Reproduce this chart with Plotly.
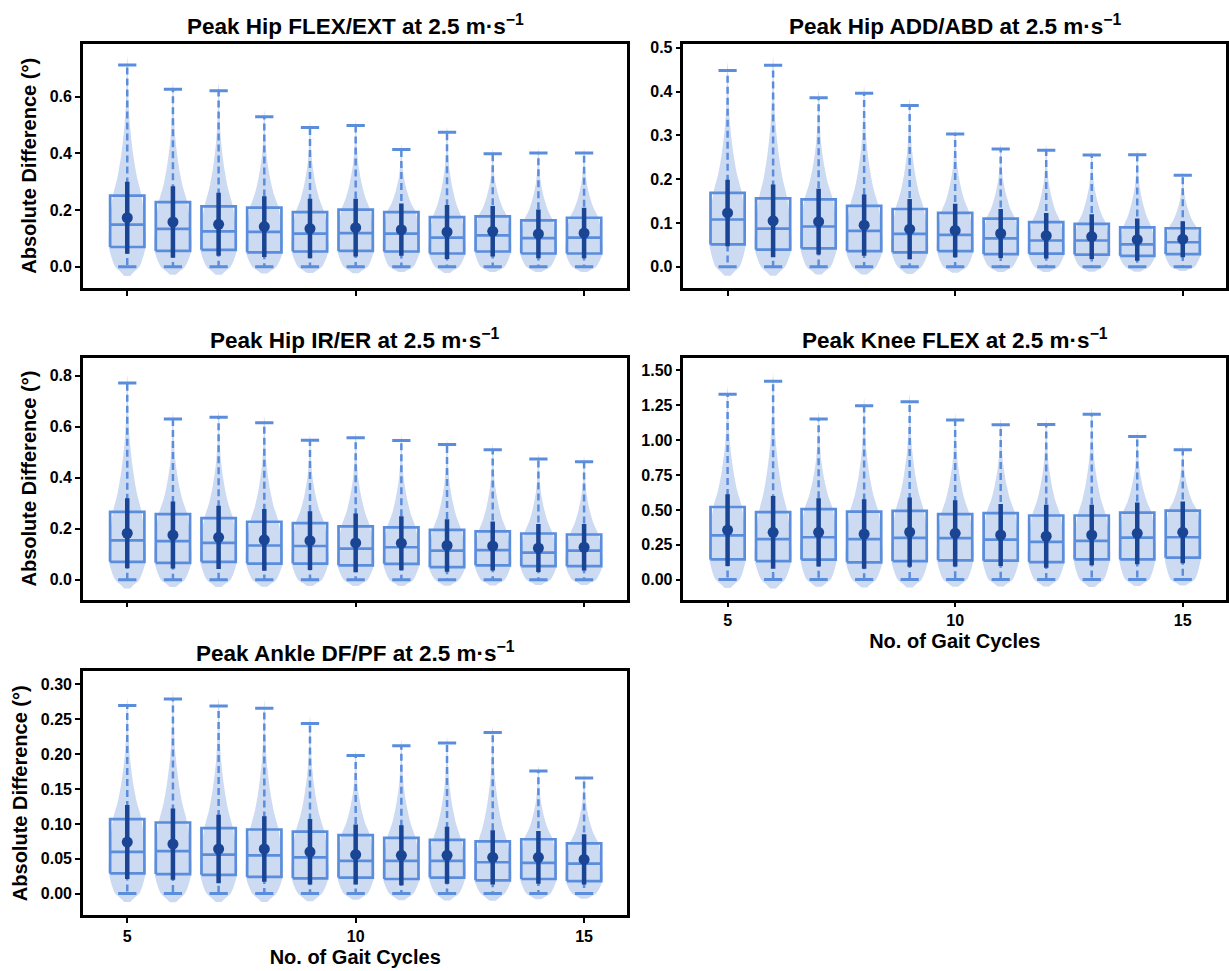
import plotly.graph_objects as go

# ---------------- data ----------------
cycles = [5, 6, 7, 8, 9, 10, 11, 12, 13, 14, 15]
x_ticks = [5, 10, 15]

titles = [
    "Peak Hip FLEX/EXT at 2.5 m·s<sup>−1</sup>",
    "Peak Hip ADD/ABD at 2.5 m·s<sup>−1</sup>",
    "Peak Hip IR/ER at 2.5 m·s<sup>−1</sup>",
    "Peak Knee FLEX at 2.5 m·s<sup>−1</sup>",
    "Peak Ankle DF/PF at 2.5 m·s<sup>−1</sup>",
]

# Hip FLEX/EXT
hip_fe_min = [0.0, 0.0, 0.0, 0.0, 0.0, 0.0, 0.0, 0.0, 0.0, 0.0, 0.0]
hip_fe_q1 = [0.070, 0.056, 0.060, 0.051, 0.054, 0.056, 0.054, 0.047, 0.054, 0.047, 0.047]
hip_fe_med = [0.149, 0.134, 0.125, 0.123, 0.117, 0.119, 0.117, 0.103, 0.111, 0.101, 0.103]
hip_fe_q3 = [0.251, 0.228, 0.213, 0.209, 0.193, 0.202, 0.193, 0.175, 0.178, 0.164, 0.173]
hip_fe_max = [0.711, 0.626, 0.621, 0.529, 0.491, 0.498, 0.414, 0.474, 0.399, 0.401, 0.401]
hip_fe_mean = [0.173, 0.158, 0.150, 0.142, 0.135, 0.138, 0.131, 0.123, 0.125, 0.116, 0.119]
hip_fe_sd = [0.127, 0.126, 0.111, 0.107, 0.105, 0.102, 0.092, 0.095, 0.089, 0.086, 0.089]

# Hip ADD/ABD
hip_aa_min = [0.0, 0.0, 0.0, 0.0, 0.0, 0.0, 0.0, 0.0, 0.0, 0.0, 0.0]
hip_aa_q1 = [0.051, 0.039, 0.042, 0.036, 0.033, 0.036, 0.029, 0.030, 0.028, 0.025, 0.029]
hip_aa_med = [0.108, 0.087, 0.092, 0.082, 0.075, 0.073, 0.065, 0.060, 0.060, 0.051, 0.056]
hip_aa_q3 = [0.169, 0.156, 0.154, 0.139, 0.132, 0.123, 0.110, 0.102, 0.098, 0.090, 0.088]
hip_aa_max = [0.448, 0.460, 0.386, 0.396, 0.368, 0.303, 0.269, 0.266, 0.255, 0.256, 0.209]
hip_aa_mean = [0.123, 0.105, 0.103, 0.095, 0.086, 0.083, 0.076, 0.071, 0.069, 0.062, 0.063]
hip_aa_sd = [0.076, 0.083, 0.075, 0.070, 0.069, 0.061, 0.056, 0.052, 0.051, 0.048, 0.041]

# Hip IR/ER
hip_ie_min = [0.0, 0.0, 0.0, 0.0, 0.0, 0.0, 0.0, 0.0, 0.0, 0.0, 0.0]
hip_ie_q1 = [0.070, 0.066, 0.070, 0.063, 0.063, 0.056, 0.062, 0.049, 0.056, 0.053, 0.053]
hip_ie_med = [0.154, 0.151, 0.144, 0.134, 0.132, 0.122, 0.127, 0.114, 0.116, 0.106, 0.114]
hip_ie_q3 = [0.266, 0.257, 0.241, 0.227, 0.222, 0.209, 0.205, 0.195, 0.189, 0.181, 0.177]
hip_ie_max = [0.771, 0.630, 0.637, 0.615, 0.547, 0.556, 0.546, 0.530, 0.509, 0.473, 0.462]
hip_ie_mean = [0.182, 0.175, 0.166, 0.156, 0.153, 0.144, 0.143, 0.134, 0.132, 0.124, 0.127]
hip_ie_sd = [0.137, 0.131, 0.124, 0.121, 0.115, 0.115, 0.106, 0.103, 0.096, 0.094, 0.091]

# Knee FLEX
knee_min = [0.0, 0.0, 0.0, 0.0, 0.0, 0.0, 0.0, 0.0, 0.0, 0.0, 0.0]
knee_q1 = [0.145, 0.133, 0.143, 0.124, 0.133, 0.138, 0.136, 0.126, 0.145, 0.145, 0.157]
knee_med = [0.318, 0.290, 0.304, 0.290, 0.299, 0.297, 0.287, 0.271, 0.278, 0.301, 0.304]
knee_q3 = [0.521, 0.484, 0.505, 0.488, 0.493, 0.470, 0.477, 0.460, 0.460, 0.481, 0.495]
knee_max = [1.329, 1.423, 1.152, 1.248, 1.276, 1.145, 1.110, 1.112, 1.187, 1.026, 0.932]
knee_mean = [0.355, 0.339, 0.339, 0.327, 0.341, 0.332, 0.320, 0.311, 0.320, 0.332, 0.339]
knee_sd = [0.257, 0.261, 0.245, 0.250, 0.248, 0.238, 0.222, 0.226, 0.217, 0.222, 0.222]

# Ankle DF/PF
ankle_min = [0.0, 0.0, 0.0, 0.0, 0.0, 0.0, 0.0, 0.0, 0.0, 0.0, 0.0]
ankle_q1 = [0.029, 0.028, 0.027, 0.024, 0.022, 0.023, 0.021, 0.023, 0.019, 0.021, 0.018]
ankle_med = [0.060, 0.061, 0.056, 0.055, 0.052, 0.047, 0.047, 0.047, 0.045, 0.044, 0.043]
ankle_q3 = [0.107, 0.102, 0.094, 0.092, 0.089, 0.084, 0.080, 0.077, 0.075, 0.078, 0.072]
ankle_max = [0.270, 0.279, 0.269, 0.266, 0.244, 0.198, 0.212, 0.216, 0.231, 0.176, 0.166]
ankle_mean = [0.074, 0.071, 0.064, 0.064, 0.060, 0.056, 0.055, 0.055, 0.052, 0.052, 0.049]
ankle_sd = [0.053, 0.051, 0.049, 0.047, 0.047, 0.043, 0.043, 0.041, 0.039, 0.038, 0.036]

panels = [
    dict(mn=hip_fe_min, q1=hip_fe_q1, med=hip_fe_med, q3=hip_fe_q3, mx=hip_fe_max, mean=hip_fe_mean, sd=hip_fe_sd),
    dict(mn=hip_aa_min, q1=hip_aa_q1, med=hip_aa_med, q3=hip_aa_q3, mx=hip_aa_max, mean=hip_aa_mean, sd=hip_aa_sd),
    dict(mn=hip_ie_min, q1=hip_ie_q1, med=hip_ie_med, q3=hip_ie_q3, mx=hip_ie_max, mean=hip_ie_mean, sd=hip_ie_sd),
    dict(mn=knee_min, q1=knee_q1, med=knee_med, q3=knee_q3, mx=knee_max, mean=knee_mean, sd=knee_sd),
    dict(mn=ankle_min, q1=ankle_q1, med=ankle_med, q3=ankle_q3, mx=ankle_max, mean=ankle_mean, sd=ankle_sd),
]

# ---------------- styles / layout ----------------
FONT = "Liberation Sans, Arial, sans-serif"
VIOLIN_FILL = "rgb(204,218,242)"
BOX_COLOR = "#5b8ddd"
DARK = "#1a4494"
BOX_HALF = 0.375
CAP_HALF = 0.2
VIOLIN_HALF = 0.40
VIOLIN_CUT = 0.045   # fraction of max that the violin extends beyond data

# relative half-width of violin at anchor positions (shape of the density)
VIOLIN_PROFILE = [0.16, 0.40, 0.66, 1.0, 0.97, 0.78, 0.52, 0.32, 0.14, 0.05, 0.03, 0.0]

W, H = 1229, 971
col_x = [(83, 628), (684, 1227)]
row_y = [(40, 285), (355, 598), (670, 915)]
positions = [(0, 0), (0, 1), (1, 0), (1, 1), (2, 0)]
y_ranges = [(-0.074, 0.786), (-0.048, 0.509), (-0.078, 0.871), (-0.143, 1.593), (-0.031, 0.319)]
y_dtick = [0.2, 0.1, 0.2, 0.25, 0.05]
y_fmt = [".1f", ".1f", ".1f", ".2f", ".2f"]
x_labels_on = [False, False, False, True, True]

fig = go.Figure()

for k, p in enumerate(panels):
    ax = "" if k == 0 else str(k + 1)
    xa, ya = "x" + ax, "y" + ax
    n = len(cycles)

    # violins
    for i in range(n):
        c = cycles[i]
        mx, q1, med, q3 = p["mx"][i], p["q1"][i], p["med"][i], p["q3"][i]
        pad = VIOLIN_CUT * mx
        R = mx - q3
        ys = [p["mn"][i] - pad, p["mn"][i] - pad / 2, p["mn"][i], q1, med, q3,
              q3 + 0.15 * R, q3 + 0.32 * R, q3 + 0.55 * R, q3 + 0.8 * R, mx, mx + pad]
        xr = [c + w * VIOLIN_HALF for w in VIOLIN_PROFILE]
        xl = [c - w * VIOLIN_HALF for w in VIOLIN_PROFILE]
        fig.add_trace(go.Scatter(
            x=xr + xl[::-1], y=ys + ys[::-1], mode="lines", fill="toself",
            fillcolor=VIOLIN_FILL, line=dict(width=0, shape="spline", smoothing=0.8),
            hoverinfo="skip", showlegend=False, xaxis=xa, yaxis=ya))

    # dashed whiskers
    wx, wy = [], []
    for i in range(n):
        c = cycles[i]
        wx += [c, c, None, c, c, None]
        wy += [p["q3"][i], p["mx"][i], None, p["q1"][i], p["mn"][i], None]
    fig.add_trace(go.Scatter(x=wx, y=wy, mode="lines",
                             line=dict(color=BOX_COLOR, width=2.5, dash="7px,4px"),
                             hoverinfo="skip", showlegend=False, xaxis=xa, yaxis=ya))

    # boxes (q1 - q3 with median line)
    bx, by = [], []
    for i in range(n):
        c = cycles[i]
        l, r_ = c - BOX_HALF, c + BOX_HALF
        bx += [l, r_, r_, l, l, None, l, r_, None]
        by += [p["q1"][i], p["q1"][i], p["q3"][i], p["q3"][i], p["q1"][i], None,
               p["med"][i], p["med"][i], None]
    fig.add_trace(go.Scatter(x=bx, y=by, mode="lines",
                             line=dict(color=BOX_COLOR, width=2.7),
                             hoverinfo="skip", showlegend=False, xaxis=xa, yaxis=ya))

    # caps
    cx, cy = [], []
    for i in range(n):
        c = cycles[i]
        cx += [c - CAP_HALF, c + CAP_HALF, None, c - CAP_HALF, c + CAP_HALF, None]
        cy += [p["mx"][i], p["mx"][i], None, p["mn"][i], p["mn"][i], None]
    fig.add_trace(go.Scatter(x=cx, y=cy, mode="lines",
                             line=dict(color=BOX_COLOR, width=3),
                             hoverinfo="skip", showlegend=False, xaxis=xa, yaxis=ya))

    # mean +/- SD
    fig.add_trace(go.Scatter(
        x=cycles, y=p["mean"], mode="markers",
        marker=dict(color=DARK, size=11),
        error_y=dict(type="data", array=p["sd"], color=DARK, thickness=4.5, width=0),
        showlegend=False, xaxis=xa, yaxis=ya))

    r, cidx = positions[k]
    x0, x1 = col_x[cidx]
    y0, y1 = row_y[r]
    axis_common = dict(showline=True, mirror=True, linecolor="black", linewidth=2.5,
                       ticks="outside", ticklen=5, tickwidth=2, tickcolor="black",
                       showgrid=False, zeroline=False,
                       tickfont=dict(family=FONT, size=16, color="black", weight="bold"))
    xaxis = dict(axis_common, domain=[x0 / W, x1 / W], anchor=ya, range=[4.03, 15.95],
                 tickmode="array", tickvals=x_ticks, showticklabels=x_labels_on[k])
    if x_labels_on[k]:
        xaxis["title"] = dict(text="No. of Gait Cycles", standoff=6,
                              font=dict(family=FONT, size=20, color="black", weight="bold"))
    yaxis = dict(axis_common, domain=[1 - y1 / H, 1 - y0 / H], anchor=xa,
                 range=list(y_ranges[k]), tick0=0, dtick=y_dtick[k], tickformat=y_fmt[k])
    if cidx == 0:
        yaxis["title"] = dict(text="Absolute Difference (°)", standoff=8,
                              font=dict(family=FONT, size=20, color="black", weight="bold"))
    fig.update_layout({"xaxis" + ax: xaxis, "yaxis" + ax: yaxis})

    fig.add_annotation(text=titles[k], xref="paper", yref="paper",
                       x=(x0 + x1) / 2 / W, y=1 - (y0 - 19) / H, xanchor="center", yanchor="middle",
                       showarrow=False,
                       font=dict(family=FONT, size=22.5, color="black", weight="bold"))

fig.update_layout(width=W, height=H, margin=dict(l=0, r=0, t=0, b=0),
                  plot_bgcolor="white", paper_bgcolor="white", showlegend=False)

fig.write_html("out.html")
